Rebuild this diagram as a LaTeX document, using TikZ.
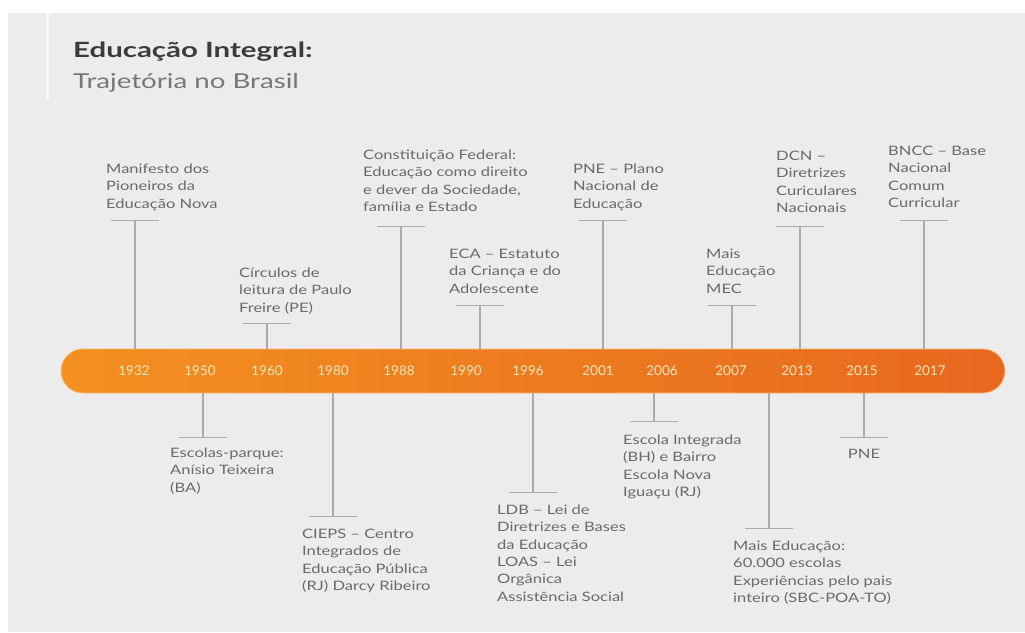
\documentclass[tikz,border=0pt]{standalone}
\usepackage{fontspec}
\setmainfont{Lato}[FakeStretch=1.27]
\newfontfamily\yearfont{Lato}
\newfontfamily\titlefont{Lato}[FakeStretch=1.4]
\newfontfamily\subfont{Lato}[FakeStretch=1.35]
\definecolor{bg}{HTML}{ECECEC}
\definecolor{txt}{HTML}{6A6A6A}
\definecolor{ttl}{HTML}{3B3B3B}
\definecolor{sub}{HTML}{767676}
\definecolor{ln}{HTML}{ABABAB}
\definecolor{orL}{HTML}{F39020}
\definecolor{orR}{HTML}{E8681E}
\definecolor{orEdge}{HTML}{F7B879}
\definecolor{yr}{HTML}{FFE6BC}
\newcommand{\txtlines}[1]{\begin{tabular}[t]{@{}l@{}}#1\end{tabular}}
\newcommand{\descfont}{\fontsize{13}{17.3}\selectfont}
\begin{document}
\begin{tikzpicture}[x=1pt,y=-1pt,
  desc/.style={anchor=base west, inner sep=0pt, font=\descfont, text=txt},
  conn/.style={draw=ln, line width=1.1pt},
  tickln/.style={draw=ln, line width=1pt},
  yearlbl/.style={font=\yearfont\fontsize{13.5}{13.5}\selectfont, text=yr, anchor=base, inner sep=0pt}]
% background
\fill[white] (0,0) rectangle (1025,632);
\fill[bg] (8,13) rectangle (1025,632);
\fill[white!70!bg] (46,13) rectangle (49,100);
\useasboundingbox (0,0) rectangle (1025,632);
% title
\node[anchor=base west, inner sep=0pt, text=ttl, font=\titlefont\bfseries\fontsize{21}{24}\selectfont] (title) at (73,57) {Educação Integral:};
\node[anchor=base west, inner sep=0pt, text=sub, font=\subfont\fontsize{20.5}{24}\selectfont] (subtitle) at (73,88) {Trajetória no Brasil};
% bar
\node[draw=orEdge, line width=0.8pt, rounded corners=22pt, minimum width=944pt, minimum height=44pt, inner sep=0pt, left color=orL, right color=orR] (bar) at (533,371) {};
% years
\foreach \yy/\xx in {1932/134,1950/200,1960/267,1980/333,1988/399,1990/466,1996/528,2001/598,2006/662,2007/731,2013/797,2015/862,2017/930}
  \node[yearlbl] (y\yy) at (\xx,375) {\yy};
% above events
\foreach \nm/\lx/\ty in {a1932/135/220,a1960/267/323,a1988/401/226,a1990/480/305,a2001/603/220,a2007/732/305,a2013/800/226,a2017/924/220}{
  \coordinate (t\nm) at (\lx,\ty);
  \draw[conn] (t\nm) -- (t\nm |- bar.north);
  \draw[tickln] ([xshift=-24pt]t\nm) -- ([xshift=24pt]t\nm);
}
% below events
\foreach \nm/\lx/\ty in {b1950/203/437,b1980/333/516,b1996/533/492,b2006/654/421,b2013/769/528,b2015/864/437}{
  \coordinate (t\nm) at (\lx,\ty);
  \draw[conn] (t\nm) -- (t\nm |- bar.south);
  \draw[tickln] ([xshift=-24pt]t\nm) -- ([xshift=24pt]t\nm);
}
% labels above
\node[desc] (la1932) at (106,173.5) {\txtlines{Manifesto dos\\Pioneiros da\\Educação Nova}};
\node[desc] (la1960) at (239,277.5) {\txtlines{Círculos de\\leitura de Paulo\\Freire (PE)}};
\node[desc] (la1988) at (363,159.5) {\txtlines{Constituição Federal:\\Educação como direito\\e dever da Sociedade,\\família e Estado}};
\node[desc] (la1990) at (449,258.5) {\txtlines{ECA – Estatuto\\da Criança e do\\Adolescente}};
\node[desc] (la2001) at (573,173.5) {\txtlines{PNE – Plano\\Nacional de\\Educação}};
\node[desc] (la2007) at (706,258.5) {\txtlines{Mais\\Educação\\MEC}};
\node[desc] (la2013) at (776,160.5) {\txtlines{DCN –\\Diretrizes\\Curiculares\\Nacionais}};
\node[desc] (la2017) at (888,155.5) {\txtlines{BNCC – Base\\Nacional\\Comum\\Curricular}};
% labels below
\node[desc] (lb1950) at (170,457.5) {\txtlines{Escolas-parque:\\Anísio Teixeira\\(BA)}};
\node[desc] (lb1980) at (302,538.5) {\txtlines{CIEPS – Centro\\Integrados de\\Educação Pública\\(RJ) Darcy Ribeiro}};
\node[desc] (lb1996) at (497,514.5) {\txtlines{LDB – Lei de\\Diretrizes e Bases\\da Educação\\LOAS – Lei\\Orgânica\\Assistência Social}};
\node[desc] (lb2006) at (623,444.5) {\txtlines{Escola Integrada\\(BH) e Bairro\\Escola Nova\\Iguaçu (RJ)}};
\node[desc] (lb2013) at (733,550.5) {\txtlines{Mais Educação:\\60.000 escolas\\Experiências pelo pais\\inteiro (SBC-POA-TO)}};
\node[desc, anchor=base] (lb2015) at (864,458.5) {PNE};
\end{tikzpicture}
\end{document}
